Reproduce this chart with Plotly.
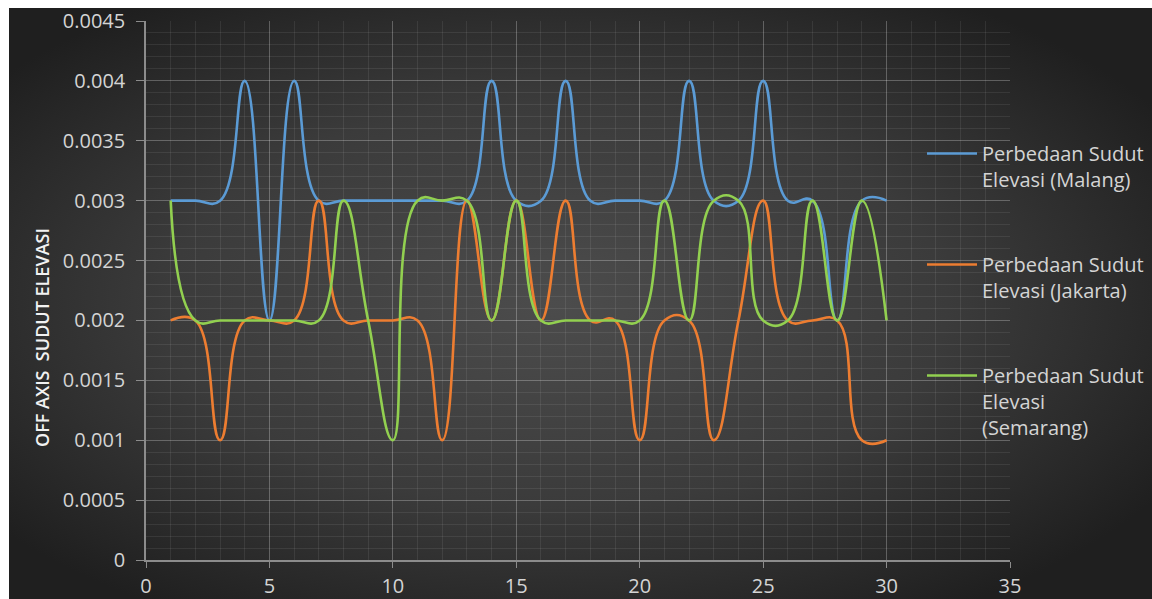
import base64
import plotly.graph_objects as go

# Sample index (1..30) and elevation-angle differences per city
hari = list(range(1, 31))
malang = [0.003, 0.003, 0.003, 0.004, 0.002, 0.004, 0.003, 0.003, 0.003, 0.003,
          0.003, 0.003, 0.003, 0.004, 0.003, 0.003, 0.004, 0.003, 0.003, 0.003,
          0.003, 0.004, 0.003, 0.003, 0.004, 0.003, 0.003, 0.002, 0.003, 0.003]
jakarta = [0.002, 0.002, 0.001, 0.002, 0.002, 0.002, 0.003, 0.002, 0.002, 0.002,
           0.002, 0.001, 0.003, 0.002, 0.003, 0.002, 0.003, 0.002, 0.002, 0.001,
           0.002, 0.002, 0.001, 0.002, 0.003, 0.002, 0.002, 0.002, 0.001, 0.001]
semarang = [0.003, 0.002, 0.002, 0.002, 0.002, 0.002, 0.002, 0.003, 0.002, 0.001,
            0.003, 0.003, 0.003, 0.002, 0.003, 0.002, 0.002, 0.002, 0.002, 0.002,
            0.003, 0.002, 0.003, 0.003, 0.002, 0.002, 0.003, 0.002, 0.003, 0.002]

series_names = ["Perbedaan Sudut<br>Elevasi (Malang)",
                "Perbedaan Sudut<br>Elevasi (Jakarta)",
                "Perbedaan Sudut<br>Elevasi<br>(Semarang)"]
series_colors = ["#5b9bd5", "#ed7d31", "#92d050"]

x_ticks = [0, 5, 10, 15, 20, 25, 30, 35]
y_ticks = [0, 0.0005, 0.001, 0.0015, 0.002, 0.0025, 0.003, 0.0035, 0.004, 0.0045]
y_tick_text = ["0", "0.0005", "0.001", "0.0015", "0.002", "0.0025",
               "0.003", "0.0035", "0.004", "0.0045"]

W, H = 1152, 599
ML, MR, MT, MB = 146, 142, 21, 39
PW, PH = W - ML - MR, H - MT - MB

FONT = "Open Sans"
TICK_COLOR = "#d4d4d4"

# Dark radial backdrop for the chart area
svg = (
    '<svg xmlns="http://www.w3.org/2000/svg" width="1143" height="591" '
    'viewBox="0 0 100 100" preserveAspectRatio="none">'
    '<defs><radialGradient id="g" cx="48%" cy="50%" r="62%">'
    '<stop offset="0" stop-color="#4c4c4c"/>'
    '<stop offset="0.55" stop-color="#3b3b3b"/>'
    '<stop offset="1" stop-color="#1f1f1f"/>'
    '</radialGradient></defs>'
    '<rect x="0" y="0" width="100" height="100" fill="url(#g)"/></svg>'
)
bg_src = "data:image/svg+xml;base64," + base64.b64encode(svg.encode()).decode()

fig = go.Figure()
for name, ys, col in zip(series_names, [malang, jakarta, semarang], series_colors):
    fig.add_trace(go.Scatter(
        x=hari, y=ys, name=name, mode="lines",
        line=dict(color=col, width=2.6, shape="spline", smoothing=1.3),
        legendgroup=name,
    ))

# Chart-area backdrop placed in paper coordinates around the plot
x0_px, y0_px = 9, 8
fig.add_layout_image(dict(
    source=bg_src, xref="paper", yref="paper",
    x=(x0_px - ML) / PW, y=(H - MB - y0_px) / PH,
    sizex=(W - x0_px) / PW, sizey=(H - y0_px) / PH,
    xanchor="left", yanchor="top", sizing="stretch", layer="below",
))

axis_line = "#8c8c8c"
major_grid = "rgba(255,255,255,0.20)"
minor_grid = "rgba(255,255,255,0.08)"

fig.update_layout(
    width=W, height=H,
    margin=dict(l=ML, r=MR, t=MT, b=MB, autoexpand=False),
    paper_bgcolor="white",
    plot_bgcolor="rgba(0,0,0,0)",
    font=dict(family=FONT, color=TICK_COLOR, size=20),
    showlegend=True,
    legend=dict(
        x=(922 - ML) / PW, y=(H - MB - 134) / PH,
        xanchor="left", yanchor="top",
        bgcolor="rgba(0,0,0,0)",
        font=dict(family=FONT, size=20, color=TICK_COLOR),
        itemwidth=50, valign="top",
        tracegroupgap=56,
    ),
    xaxis=dict(
        range=[0, 35], tickvals=x_ticks, ticktext=[str(v) for v in x_ticks],
        showgrid=True, gridcolor=major_grid, gridwidth=1,
        showline=True, linecolor=axis_line, linewidth=1.5,
        ticks="outside", ticklen=6, tickcolor=axis_line,
        ticklabelstandoff=1, automargin=False,
        zeroline=False, mirror=False,
        tickfont=dict(size=20, color=TICK_COLOR),
        minor=dict(dtick=1, showgrid=True, gridcolor=minor_grid, gridwidth=1),
    ),
    yaxis=dict(
        range=[0, 0.0045], tickvals=y_ticks, ticktext=y_tick_text,
        showgrid=True, gridcolor=major_grid, gridwidth=1,
        showline=True, linecolor=axis_line, linewidth=1.5,
        ticks="outside", ticklen=8, tickcolor=axis_line,
        ticklabelstandoff=7, automargin=False,
        zeroline=False,
        tickfont=dict(size=20, color=TICK_COLOR),
        minor=dict(dtick=0.0001, tick0=0, showgrid=True, gridcolor=minor_grid, gridwidth=1),
    ),
    annotations=[dict(
        text="OFF AXIS  SUDUT ELEVASI", textangle=-90,
        xref="paper", yref="paper",
        x=(42 - ML) / PW, y=(H - MB - 338) / PH,
        xanchor="center", yanchor="middle", showarrow=False,
        font=dict(family=FONT, size=18, color="#f2f2f2", weight=600),
    )],
)

fig.write_html("out.html")
